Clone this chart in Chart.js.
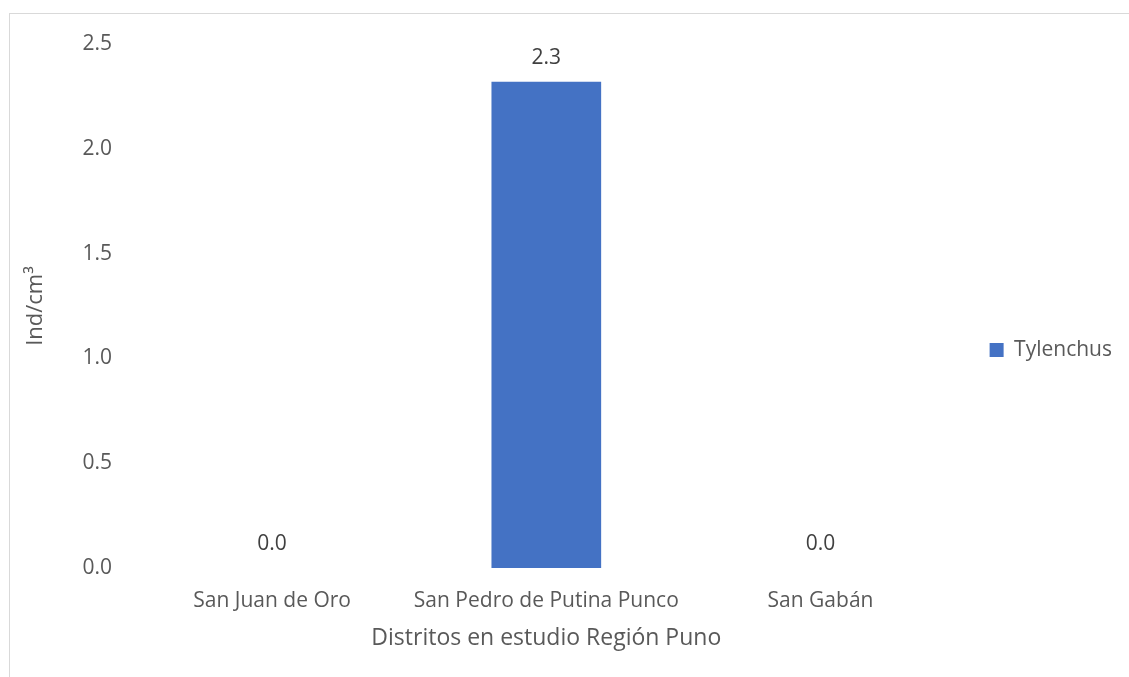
<!DOCTYPE html>
<html>
<head>
    <title>Tylenchus por distrito</title>
    <script src="https://cdn.jsdelivr.net/npm/chart.js"></script>
    <style>
        body { margin: 0; background: #fff; overflow: hidden; }
        #frame { position: absolute; left: 9px; top: 13px; width: 1200px; height: 700px; border: 1px solid #d9d9d9; }
        #wrap { position: absolute; left: 0; top: 0; width: 1129px; height: 677px; }
    </style>
</head>
<body>
    <div id="frame"></div>
    <div id="wrap">
        <canvas id="chart" width="1129" height="677"></canvas>
    </div>

    <script>
        // data
        const districts = ["San Juan de Oro", "San Pedro de Putina Punco", "San Gabán"];
        const tylenchus = [0, 2.32, 0];
        const yTicks = [0, 0.5, 1.0, 1.5, 2.0, 2.5];

        const textColor = "#595959";
        const fontFamily = "'Open Sans', sans-serif";

        // values above the bars, one decimal like the original
        const valueLabels = {
            id: "valueLabels",
            afterDatasetsDraw(chart) {
                const ctx = chart.ctx;
                ctx.save();
                ctx.font = "21px " + fontFamily;
                ctx.fillStyle = "#404040";
                ctx.textAlign = "center";
                ctx.textBaseline = "middle";
                chart.getDatasetMeta(0).data.forEach((bar, i) => {
                    ctx.fillText(tylenchus[i].toFixed(1), bar.x, bar.y - 24);
                });
                ctx.restore();
            }
        };

        const ctx = document.getElementById("chart").getContext("2d");
        new Chart(ctx, {
            type: "bar",
            data: {
                labels: districts,
                datasets: [{
                    label: "Tylenchus",
                    data: tylenchus,
                    backgroundColor: "#4472C4",
                    categoryPercentage: 0.4,
                    barPercentage: 1.0
                }]
            },
            options: {
                responsive: false,
                animation: false,
                layout: { padding: { top: 44, bottom: 21, left: 0, right: 7 } },
                plugins: {
                    tooltip: { enabled: false },
                    legend: {
                        position: "right",
                        labels: {
                            boxWidth: 14,
                            boxHeight: 14,
                            padding: 32,
                            color: textColor,
                            font: { family: fontFamily, size: 21 }
                        }
                    }
                },
                scales: {
                    x: {
                        afterFit(scale) { scale.height = 88; },
                        grid: { display: false },
                        border: { display: false },
                        ticks: {
                            color: textColor,
                            padding: 12,
                            maxRotation: 0,
                            minRotation: 0,
                            autoSkip: false,
                            font: { family: fontFamily, size: 21 }
                        },
                        title: {
                            display: true,
                            text: "Distritos en estudio Región Puno",
                            color: textColor,
                            padding: { top: 9, bottom: 4 },
                            font: { family: fontFamily, size: 23 }
                        }
                    },
                    y: {
                        min: 0,
                        max: 2.5,
                        afterFit(scale) { scale.width = 135; },
                        afterBuildTicks(scale) { scale.ticks = yTicks.map(v => ({ value: v })); },
                        grid: { display: false },
                        border: { display: false },
                        ticks: {
                            color: textColor,
                            padding: 15,
                            font: { family: fontFamily, size: 21 },
                            callback: v => Number(v).toFixed(1)
                        },
                        title: {
                            display: true,
                            text: "Ind/cm³",
                            color: textColor,
                            padding: { top: 23, bottom: 0 },
                            font: { family: fontFamily, size: 22 }
                        }
                    }
                }
            },
            plugins: [valueLabels]
        });
    </script>
</body>
</html>
